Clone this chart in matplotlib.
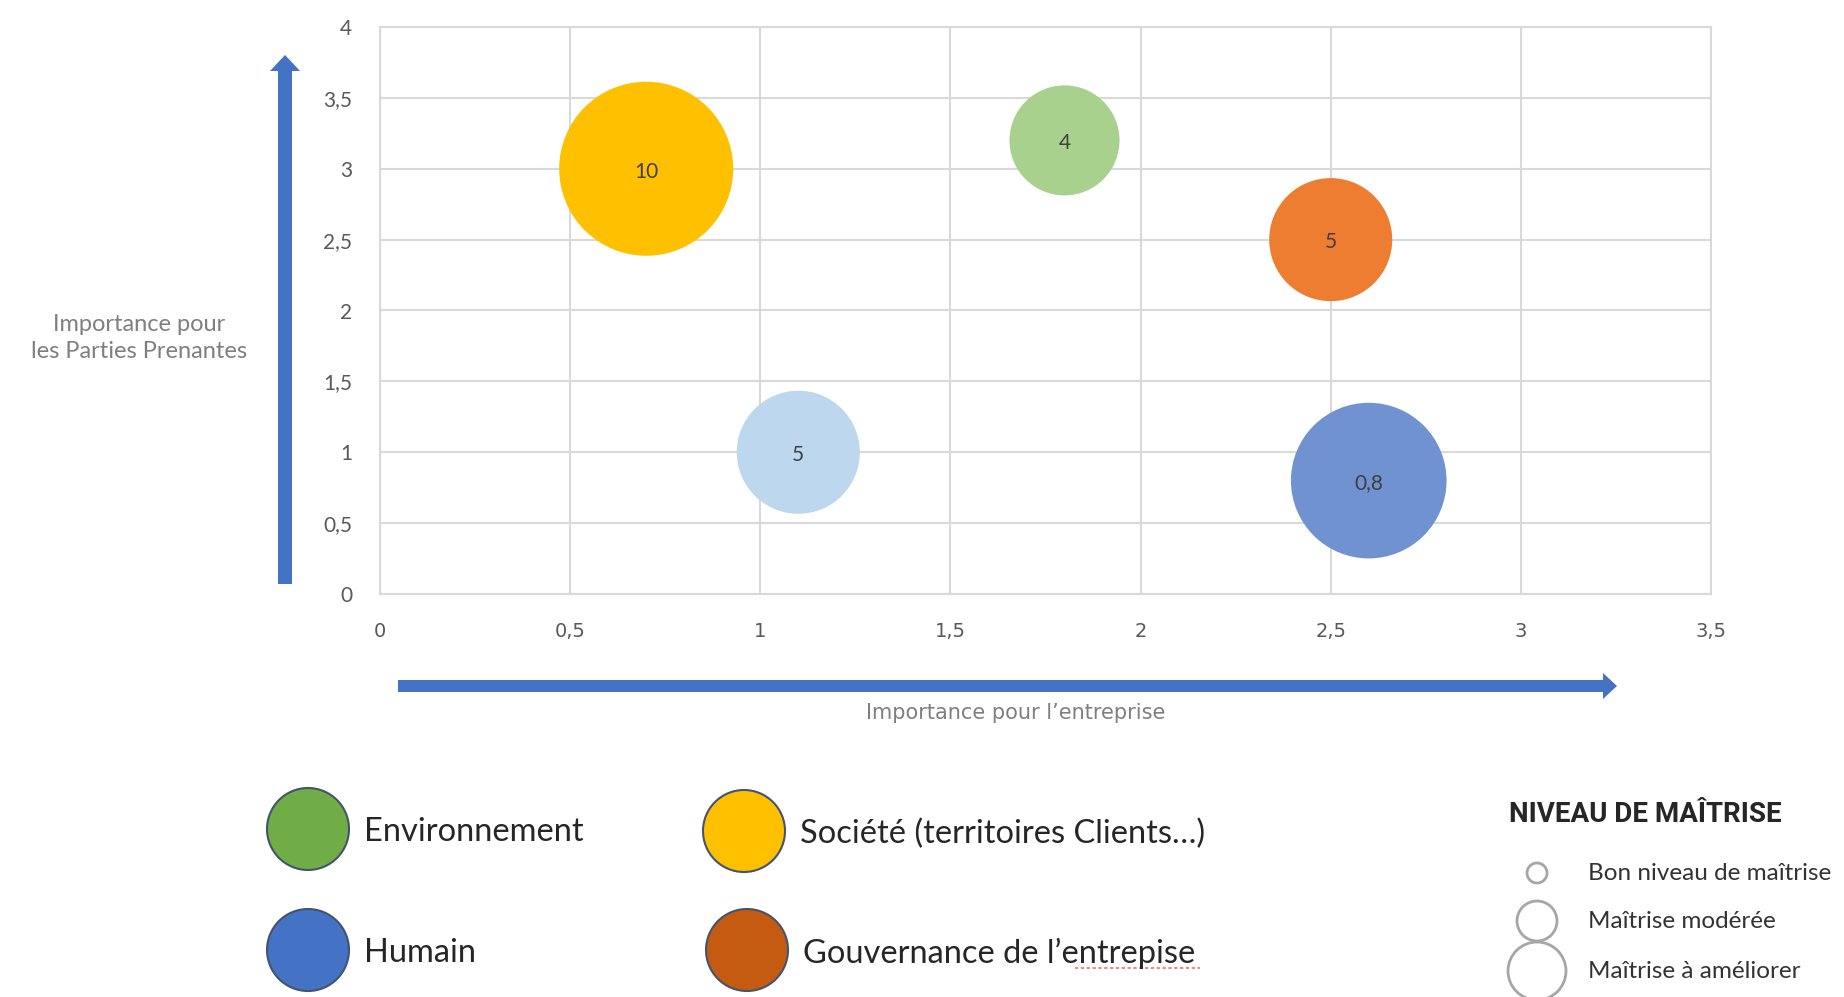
import matplotlib.pyplot as plt
from matplotlib.patches import Circle, FancyArrow

W, H = 1844, 997

# bubbles
x_vals = [0.7, 1.8, 2.5, 1.1, 2.6]
y_vals = [3.0, 3.2, 2.5, 1.0, 0.8]
sizes = [10, 4, 5, 5, 8]
labels = ['10', '4', '5', '5', '0,8']
colors = ['#FFC000', '#A9D18E', '#ED7D31', '#BDD7EE', '#7092D0']

x_ticks = [0, 0.5, 1, 1.5, 2, 2.5, 3, 3.5]
y_ticks = [0, 0.5, 1, 1.5, 2, 2.5, 3, 3.5, 4]

legend_names = ['Environnement', 'Société (territoires Clients…)', 'Humain', 'Gouvernance de l’entrepise']
legend_colors = ['#70AD47', '#FFC000', '#4472C4', '#C55A11']

level_title = 'NIVEAU DE MAÎTRISE'
level_names = ['Bon niveau de maîtrise', 'Maîtrise modérée', 'Maîtrise à améliorer']


def fmt(v):
    return ('%g' % v).replace('.', ',')


fig = plt.figure(figsize=(W / 100, H / 100), dpi=100)
fig.patch.set_facecolor('white')

# main plot area (pixel box 380..1711 x 27..594)
ax = fig.add_axes([380 / W, 1 - 594 / H, (1711 - 380) / W, (594 - 27) / H])
ax.set_xlim(0, 3.5)
ax.set_ylim(0, 4)
ax.set_xticks(x_ticks)
ax.set_yticks(y_ticks)
ax.set_xticklabels([fmt(v) for v in x_ticks], fontsize=14, color='#595959')
ax.set_yticklabels([fmt(v) for v in y_ticks], fontsize=15, color='#595959', family='Lato')
ax.tick_params(axis='both', length=0)
ax.tick_params(axis='x', pad=20)
ax.tick_params(axis='y', pad=20)
ax.grid(True, color='#D9D9D9', lw=1.5)
ax.set_axisbelow(True)
for sp in ax.spines.values():
    sp.set_color('#D9D9D9')
    sp.set_linewidth(1.5)

ax.scatter(x_vals, y_vals, s=[v * 1570 for v in sizes], c=colors, edgecolors='none', zorder=3)
for xv, yv, lab in zip(x_vals, y_vals, labels):
    ax.text(xv, yv - 0.02, lab, ha='center', va='center', fontsize=15, color='#404040',
            family='Lato', zorder=4)

# overlay in pixel coordinates for arrows and legends
ov = fig.add_axes([0, 0, 1, 1])
ov.set_xlim(0, W)
ov.set_ylim(H, 0)
ov.axis('off')
ov.patch.set_visible(False)

ov.add_patch(FancyArrow(285, 584, 0, -529, width=14, head_width=30, head_length=16,
                        length_includes_head=True, color='#4472C4', lw=0))
ov.add_patch(FancyArrow(398, 686, 1219, 0, width=12, head_width=26, head_length=14,
                        length_includes_head=True, color='#4472C4', lw=0))

ov.text(139, 338, 'Importance pour\nles Parties Prenantes', ha='center', va='center',
        fontsize=17, color='#7F7F7F', family='Lato', linespacing=1.4)
ov.text(1016, 713, 'Importance pour l’entreprise', ha='center', va='center',
        fontsize=15, color='#7F7F7F')

# category legend
leg_pos = [(308, 829), (744, 831), (308, 950), (747, 950)]
for (cx, cy), name, col in zip(leg_pos, legend_names, legend_colors):
    ov.add_patch(Circle((cx, cy), 41, facecolor=col, edgecolor='#44546A', lw=1.5))
    ov.text(cx + 56, cy + 3, name, ha='left', va='center', fontsize=23.5,
            color='#262626', family='Lato')
# spell-check underline
ov.plot([1075, 1200], [968, 968], color='#E57373', lw=1.2, ls=(0, (2, 1.5)))

# level legend
ov.text(1509, 814, level_title, ha='left', va='center', fontsize=20,
        fontweight='bold', color='#262626', family='Roboto')
lev_y = [873, 921, 971]
lev_r = [10, 20, 29]
for yy, rr, name in zip(lev_y, lev_r, level_names):
    ov.add_patch(Circle((1537, yy), rr, facecolor='none', edgecolor='#A6A6A6', lw=2))
    ov.text(1588, yy, name, ha='left', va='center', fontsize=17.5, color='#333333',
            family='Lato')

fig.savefig('out.png', dpi=100)
